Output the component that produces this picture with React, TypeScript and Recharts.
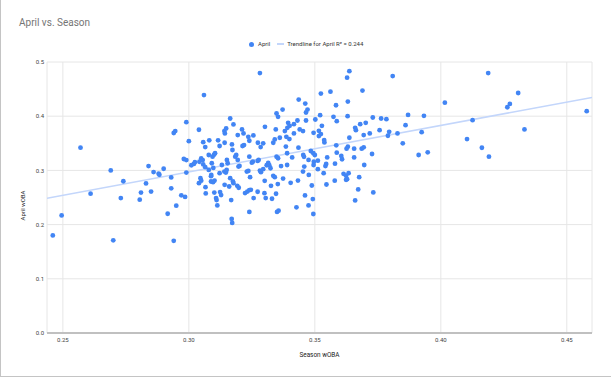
import React from 'react';
import {
  ScatterChart, Scatter, XAxis, YAxis, CartesianGrid, ReferenceLine, Label
} from 'recharts';

// Season wOBA (x) and April wOBA (y), one entry per player
const seasonWoba = [
  0.246, 0.2495, 0.257, 0.261, 0.269, 0.270, 0.273, 0.274, 0.2805, 0.281,
  0.283, 0.284, 0.285, 0.286, 0.288, 0.2883, 0.290, 0.2916, 0.293, 0.293,
  0.294, 0.2946, 0.294, 0.295, 0.297, 0.2985, 0.298, 0.299, 0.299, 0.299,
  0.300, 0.301, 0.302, 0.3024, 0.304, 0.3042, 0.3049, 0.3055, 0.3057, 0.3065,
  0.3057, 0.3081, 0.306, 0.304, 0.3046, 0.3049, 0.3066, 0.3067, 0.3088, 0.3089,
  0.3088, 0.3096, 0.3102, 0.3079, 0.3094, 0.310, 0.3104, 0.3091, 0.3097, 0.3079,
  0.3101, 0.3108, 0.311, 0.3113, 0.3124, 0.3128, 0.3142, 0.316, 0.3168, 0.317,
  0.3172, 0.3175, 0.3192, 0.3198, 0.3131, 0.3141, 0.3147, 0.315, 0.3154, 0.3151,
  0.3164, 0.3177, 0.3184, 0.3188, 0.3194, 0.3197, 0.3122, 0.3116, 0.3141, 0.3143,
  0.3148, 0.3142, 0.3164, 0.3177, 0.3171, 0.3194, 0.3211, 0.3217, 0.3219, 0.3236,
  0.324, 0.3256, 0.3274, 0.3295, 0.3302, 0.3335, 0.3341, 0.3345, 0.3348, 0.3354,
  0.3282, 0.3173, 0.3201, 0.3223, 0.3232, 0.324, 0.3246, 0.324, 0.3257, 0.3273,
  0.3301, 0.3326, 0.333, 0.3346, 0.335, 0.3356, 0.323, 0.3236, 0.3243, 0.324,
  0.325, 0.3254, 0.3273, 0.3277, 0.3282, 0.3286, 0.3295, 0.3309, 0.3315, 0.3319,
  0.3324, 0.3305, 0.330, 0.3335, 0.3341, 0.3353, 0.3348, 0.3354, 0.3404, 0.3427,
  0.3433, 0.3461, 0.3475, 0.3488, 0.3492, 0.3494, 0.3546, 0.3579, 0.3624, 0.366,
  0.3672, 0.3732, 0.339, 0.3366, 0.339, 0.341, 0.3374, 0.3454, 0.3457, 0.3458,
  0.3453, 0.3475, 0.3476, 0.3484, 0.3494, 0.350, 0.3496, 0.3495, 0.3512, 0.3512,
  0.3535, 0.3542, 0.3545, 0.3549, 0.3587, 0.3605, 0.3608, 0.3614, 0.3624, 0.3628,
  0.3634, 0.3656, 0.3676, 0.3696, 0.3727, 0.3637, 0.3628, 0.3809, 0.3524, 0.3562,
  0.3689, 0.3436, 0.3462, 0.3471, 0.3465, 0.3372, 0.3584, 0.3631, 0.3521, 0.3502,
  0.3574, 0.3587, 0.363, 0.3394, 0.340, 0.3417, 0.3431, 0.3465, 0.3528, 0.366,
  0.368, 0.3702, 0.373, 0.3763, 0.3784, 0.3381, 0.3391, 0.3417, 0.344, 0.3453,
  0.3361, 0.3387, 0.3399, 0.3495, 0.3516, 0.3524, 0.3516, 0.3537, 0.3538, 0.3637,
  0.3663, 0.3694, 0.3718, 0.3757, 0.3795, 0.379, 0.3828, 0.4188, 0.4307, 0.4274,
  0.4264, 0.4016, 0.4579, 0.4126, 0.4332, 0.4104, 0.4163, 0.4191, 0.387, 0.3933,
  0.386, 0.3924, 0.3849, 0.3912, 0.3948, 0.3631, 0.3626, 0.3656, 0.3686, 0.3694,
  0.3585, 0.358, 0.3122, 0.3213, 0.3065, 0.3285, 0.3385, 0.3435,
];

const aprilWoba = [
  0.180, 0.217, 0.342, 0.257, 0.300, 0.171, 0.249, 0.280, 0.246, 0.259,
  0.276, 0.308, 0.261, 0.297, 0.294, 0.292, 0.303, 0.220, 0.287, 0.267,
  0.369, 0.3725, 0.170, 0.235, 0.254, 0.251, 0.321, 0.319, 0.296, 0.389,
  0.354, 0.3095, 0.312, 0.315, 0.375, 0.316, 0.322, 0.319, 0.311, 0.306,
  0.352, 0.3554, 0.439, 0.2765, 0.2857, 0.281, 0.269, 0.2575, 0.2893, 0.2917,
  0.2795, 0.2783, 0.2813, 0.3284, 0.3253, 0.329, 0.3316, 0.3132, 0.3046, 0.3009,
  0.259, 0.249, 0.2453, 0.2354, 0.260, 0.2545, 0.2734, 0.2703, 0.2453, 0.2105,
  0.203, 0.2795, 0.2716, 0.268, 0.310, 0.2978, 0.296, 0.3009, 0.3132, 0.3193,
  0.2857, 0.2765, 0.3253, 0.3284, 0.3193, 0.307, 0.2949, 0.3554, 0.3725, 0.3682,
  0.3774, 0.351, 0.3958, 0.3848, 0.348, 0.3651, 0.3756, 0.3682, 0.3468, 0.362,
  0.3547, 0.3646, 0.351, 0.350, 0.3804, 0.351, 0.3572, 0.3756, 0.405, 0.3988,
  0.4795, 0.3376, 0.3083, 0.2582, 0.261, 0.2637, 0.2642, 0.2233, 0.249, 0.2606,
  0.2807, 0.2716, 0.2477, 0.2569, 0.2233, 0.2257, 0.2978, 0.2991, 0.2875, 0.3253,
  0.3143, 0.3161, 0.3174, 0.3193, 0.2996, 0.2967, 0.3022, 0.3095, 0.3138, 0.3095,
  0.304, 0.249, 0.258, 0.2899, 0.2875, 0.2747, 0.3253, 0.3224, 0.277, 0.2318,
  0.2813, 0.2538, 0.2354, 0.2721, 0.2471, 0.2196, 0.274, 0.281, 0.2826, 0.2446,
  0.2649, 0.2593, 0.3316, 0.308, 0.310, 0.324, 0.285, 0.3284, 0.325, 0.307,
  0.2978, 0.3193, 0.2917, 0.3358, 0.3316, 0.3284, 0.316, 0.310, 0.318, 0.3022,
  0.2949, 0.308, 0.312, 0.324, 0.3327, 0.3266, 0.3206, 0.2936, 0.290, 0.2839,
  0.2949, 0.324, 0.2875, 0.310, 0.3303, 0.4831, 0.471, 0.474, 0.4417, 0.4453,
  0.4472, 0.4306, 0.4233, 0.4123, 0.4068, 0.4123, 0.4202, 0.427, 0.4018, 0.3939,
  0.3988, 0.3908, 0.400, 0.3877, 0.3822, 0.3853, 0.3921, 0.3921, 0.3822, 0.3785,
  0.3853, 0.3877, 0.3976, 0.3958, 0.3945, 0.3725, 0.3785, 0.3682, 0.3756, 0.3725,
  0.3602, 0.362, 0.3578, 0.3694, 0.373, 0.367, 0.3633, 0.356, 0.3517, 0.3602,
  0.3743, 0.3651, 0.3682, 0.3743, 0.3712, 0.3639, 0.3682, 0.4795, 0.4428, 0.4226,
  0.4165, 0.425, 0.4092, 0.3927, 0.3756, 0.3578, 0.3418, 0.3253, 0.4024, 0.4006,
  0.3835, 0.3706, 0.3499, 0.3284, 0.3334, 0.3437, 0.340, 0.340, 0.340, 0.3426,
  0.3462, 0.3125, 0.345, 0.345, 0.343, 0.343, 0.344, 0.342,
];

const xTicks = [0.25, 0.3, 0.35, 0.4, 0.45];
const yTicks = [0, 0.1, 0.2, 0.3, 0.4, 0.5];
const xDomain = [0.2437, 0.46];

// trendline as shown by the sheet (R² = 0.244)
const trendSlope = 0.86;
const trendIntercept = 0.039;
const trendLabel = 'Trendline for April R² = 0.244';

const points = seasonWoba.map((s, i) => ({ season: s, april: aprilWoba[i] }));
const trendSegment = xDomain.map((x) => ({ x, y: trendIntercept + trendSlope * x }));

const BLUE = '#4285f4';
const TREND = '#c3d6fb';

const Dot = (p: any) => <circle cx={p.cx} cy={p.cy} r={2.4} fill={BLUE} />;

export default function App() {
  return (
    <div style={{
      position: 'absolute', left: 0, top: 0, width: 611, height: 377,
      background: '#fff', fontFamily: 'Roboto, Arial, sans-serif', overflow: 'hidden'
    }}>
      <div style={{ position: 'absolute', left: 0, top: 0, width: 1, height: 377, background: '#c4c4c4' }} />
      <div style={{ position: 'absolute', left: 0, top: 376, width: 611, height: 1, background: '#c4c4c4' }} />

      <div style={{ position: 'absolute', left: 19, top: 16, fontSize: 10, color: '#757575', lineHeight: '14px' }}>
        April vs. Season
      </div>

      <div style={{
        position: 'absolute', left: 249, top: 40, display: 'flex', alignItems: 'center',
        fontSize: 6, color: '#333', lineHeight: '8px'
      }}>
        <span style={{ width: 5, height: 5, borderRadius: '50%', background: BLUE, marginRight: 4 }} />
        <span>April</span>
        <span style={{ width: 7, height: 1.5, background: TREND, marginLeft: 7, marginRight: 3 }} />
        <span>{trendLabel}</span>
      </div>

      <ScatterChart
        width={611}
        height={377}
        margin={{ top: 62, right: 19, bottom: 19, left: 0 }}
        style={{ position: 'absolute', left: 0, top: 0 }}
      >
        <CartesianGrid stroke="#e6e6e6" strokeWidth={1} />
        <XAxis
          type="number"
          dataKey="season"
          domain={xDomain}
          ticks={xTicks}
          allowDataOverflow
          height={25}
          tickSize={0}
          tickMargin={5}
          tickLine={false}
          axisLine={{ stroke: '#c0c0c0', strokeWidth: 2 }}
          tick={{ fontSize: 6, fill: '#444' }}
          tickFormatter={(v: number) => v.toFixed(2)}
        >
          <Label value="Season wOBA" position="insideBottom" offset={1} style={{ fontSize: 6.4, fill: '#222' }} />
        </XAxis>
        <YAxis
          type="number"
          dataKey="april"
          domain={[0, 0.5]}
          ticks={yTicks}
          width={47}
          tickSize={0}
          tickMargin={3}
          tickLine={false}
          axisLine={false}
          tick={{ fontSize: 6, fill: '#444' }}
          tickFormatter={(v: number) => v.toFixed(1)}
        >
          <Label
            value="April wOBA"
            angle={-90}
            position="insideLeft"
            offset={23}
            dy={8}
            style={{ fontSize: 6, fill: '#222', textAnchor: 'middle' }}
          />
        </YAxis>
        <ReferenceLine segment={trendSegment} stroke={TREND} strokeWidth={1.5} ifOverflow="hidden" />
        <Scatter name="April" data={points} shape={Dot} isAnimationActive={false} />
      </ScatterChart>
    </div>
  );
}
